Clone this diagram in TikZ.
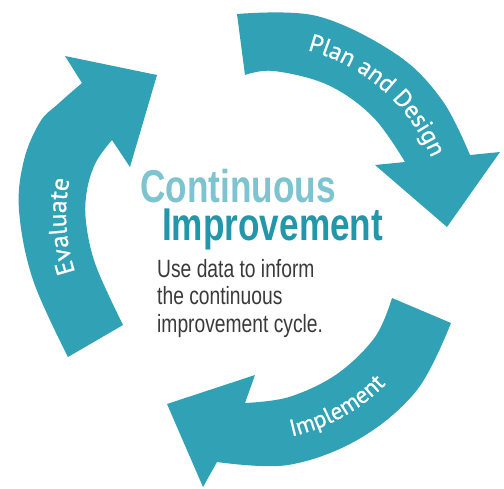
\documentclass[tikz,border=0pt]{standalone}
\usepackage{fontspec}
\setmainfont{Liberation Sans}
\newfontfamily\titlefont[FakeStretch=0.765]{Liberation Sans}
\newfontfamily\bodyfont[FakeStretch=0.77]{Liberation Sans}
\newfontfamily\labelfont[FakeBold=0.8]{PT Sans}
\usetikzlibrary{decorations.text}

\definecolor{cyclefill}{HTML}{31A1B5}
\definecolor{titlelight}{HTML}{7DC3D0}
\definecolor{titledark}{HTML}{2396AA}
\definecolor{bodygray}{HTML}{3A3A3A}

\begin{document}
\begin{tikzpicture}[x=1pt,y=-1pt,
  cyclearrow/.style={fill=cyclefill, draw=none},
  arclabel/.style 2 args={decorate, decoration={text along path, text align=center,
      text={|\labelfont\fontsize{#2}{#2}\selectfont\color{white}|#1}}},
  titleline/.style={anchor=base west, inner sep=0pt, font=\titlefont\bfseries\fontsize{46}{50}\selectfont},
  bodyline/.style={anchor=base west, inner sep=0pt, text=bodygray, font=\bodyfont\fontsize{25}{28}\selectfont}]
\useasboundingbox (0,0) rectangle (504,488);

% centres of the three arcs
\coordinate (cP) at (260,230);
\coordinate (cI) at (250,250);
\coordinate (cE) at (248,215);

% Plan and Design: top arrow, turning clockwise down the right side
\fill[cyclearrow] (237,14)
  -- plot[smooth, tension=0.6] coordinates {(237,14) (317,16) (396,54) (442,100) (470,155)}
  -- (500,152) -- (447,227) -- (375,165)
  -- plot[smooth, tension=0.6] coordinates {(405,162) (373,117) (328,85) (274,71) (245,75)}
  -- cycle;

% Implement: lower right arrow, pointing to the lower left
\fill[cyclearrow] (392,298) -- (451,323)
  -- plot[smooth, tension=0.6] coordinates {(451,323) (417,390) (359,439) (288,465) (217,462)}
  -- (203,487) -- (167,404) -- (255,375)
  -- plot[smooth, tension=0.6] coordinates {(245,403) (289,397) (337,374) (375,337) (392,298)}
  -- cycle;

% Evaluate: left arrow, pointing up to the upper right
\fill[cyclearrow] (68,357)
  -- plot[smooth, tension=0.6] coordinates {(68,357) (33,280) (19,210) (24,160) (40,122) (58,104) (82,83)}
  -- (65,56) -- (157,75) -- (130,167)
  -- plot[smooth, tension=0.6] coordinates {(112,140) (96,162) (87,190) (86,222) (96,266) (123,325)}
  -- cycle;

% labels running along the arrows
\path[arclabel={Plan and Design}{24.5}] ([shift={(-84:186)}]cP) arc (-84:-14:186);
\path[arclabel={Implement}{23.5}] ([shift={(97:191)}]cI) arc (97:25:191);
\path[arclabel={Evaluate}{25.5}] ([shift={(-218:182)}]cE) arc (-218:-149:182);

% centre text
\node[titleline, text=titlelight] (cont) at (140,202) {Continuous};
\node[titleline, text=titledark] (impr) at (162,240) {Improvement};
\node[bodyline] (b1) at (157,277) {Use data to inform};
\node[bodyline] (b2) at (157,304.5) {the continuous};
\node[bodyline] (b3) at (157,332) {improvement cycle.};
\end{tikzpicture}
\end{document}
